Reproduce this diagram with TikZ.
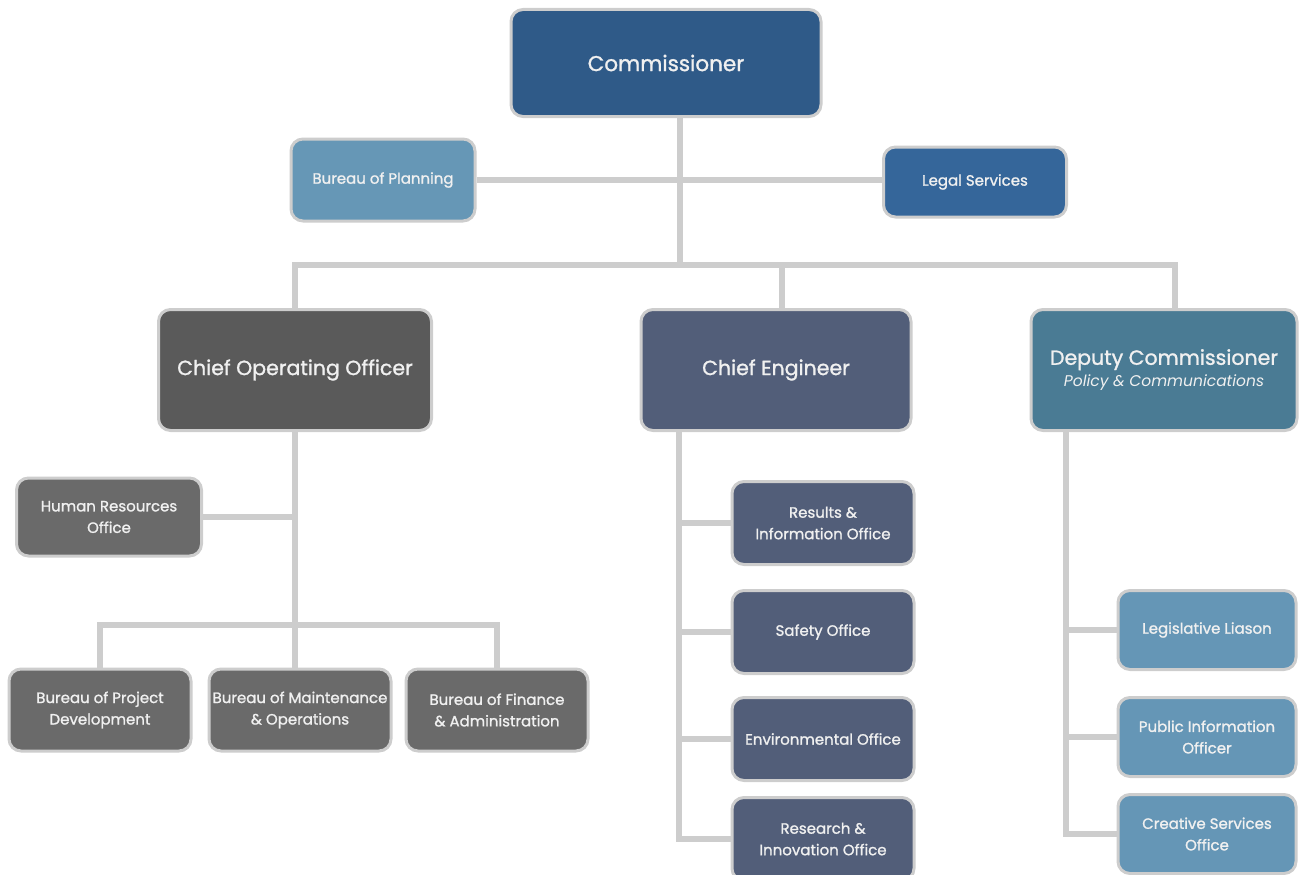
\documentclass[tikz,border=0pt]{standalone}
\usepackage{fontspec}
\setmainfont{Poppins}
\newfontfamily\chartfont{Poppins}[FakeBold=1.2]
\usepackage{xcolor}
\usetikzlibrary{positioning,backgrounds}

\definecolor{linkgray}{HTML}{CDCDCD}
\definecolor{commblue}{HTML}{2F5A88}
\definecolor{planblue}{HTML}{6697B6}
\definecolor{legalblue}{HTML}{35669A}
\definecolor{cooGray}{HTML}{5A5A5A}
\definecolor{cookid}{HTML}{6A6A6A}
\definecolor{ceslate}{HTML}{525E79}
\definecolor{dcteal}{HTML}{4A7B94}
\definecolor{dckid}{HTML}{6596B6}

\begin{document}
\begin{tikzpicture}[
  x=1pt, y=-1pt,
  box/.style={draw=linkgray, line width=3pt, rounded corners=12pt, text=white!94!black, align=center},
  head/.style={box, minimum width=270pt, minimum height=121pt, font=\chartfont\fontsize{20.5}{25}\selectfont},
  unit/.style={box, minimum width=182pt, minimum height=82pt, font=\chartfont\fontsize{15}{21.5}\selectfont},
  link/.style={draw=linkgray, line width=6pt}
]
  \useasboundingbox (0,0) rectangle (1299,875);

  \node[box, fill=commblue, minimum width=310pt, minimum height=107pt, font=\chartfont\fontsize{21.5}{26}\selectfont] (comm) at (666,63) {Commissioner};
  \node[unit, fill=planblue, minimum width=184pt] (plan) at (383,180) {Bureau of Planning};
  \node[unit, fill=legalblue, minimum width=183pt, minimum height=70pt] (legal) at (975,182) {Legal Services};

  \node[head, fill=cooGray, minimum width=273pt] (coo) at (295,370) {Chief Operating Officer};
  \node[head, fill=ceslate] (ce) at (776,370) {Chief Engineer};
  \node[head, fill=dcteal, minimum width=266pt] (dc) at (1164,370) {Deputy Commissioner\\[-3pt]{\setmainfont{Poppins}\fontsize{15.5}{18}\selectfont\itshape Policy \& Communications}};

  \node[unit, fill=cookid, minimum width=185pt, minimum height=78pt] (hr) at (109,517) {Human Resources\\Office};
  \node[unit, fill=cookid] (bpd) at (100,710) {Bureau of Project\\Development};
  \node[unit, fill=cookid, right=15pt of bpd] (bmo) {Bureau of Maintenance\\\& Operations};
  \node[unit, fill=cookid, right=12pt of bmo] (bfa) {Bureau of Finance\\\& Administration};

  \node[unit, fill=ceslate, minimum height=83pt] (results) at (823,523) {Results \&\\Information Office};
  \node[unit, fill=ceslate, minimum height=83pt, below=23pt of results] (safety) {Safety Office};
  \node[unit, fill=ceslate, minimum height=83pt, below=21pt of safety] (envoff) {Environmental Office};
  \node[unit, fill=ceslate, minimum height=83pt, below=14pt of envoff] (research) {Research \&\\Innovation Office};

  \node[unit, fill=dckid, minimum width=178pt, minimum height=79pt] (legis) at (1207,630) {Legislative Liason};
  \node[unit, fill=dckid, minimum width=178pt, minimum height=79pt, below=25pt of legis] (pubinfo) {Public Information\\Officer};
  \node[unit, fill=dckid, minimum width=178pt, minimum height=79pt, below=15pt of pubinfo] (creative) {Creative Services\\Office};

  \coordinate (bus) at (680,265);
  \coordinate (coobus) at (295,625);
  \coordinate (cespine) at (679,432);
  \coordinate (dcspine) at (1066,432);

  \begin{scope}[on background layer]
    \draw[link] (comm.south -| bus) -- (bus);
    \draw[link] (plan.east) -- (legal.west |- plan.east);
    \draw[link] (coo.north) |- (bus) -| ([xshift=11pt]dc.north);
    \draw[link] ([xshift=6pt]ce.north) -- ([xshift=6pt]ce.north |- bus);
    \draw[link] (coo.south) -- (coobus);
    \draw[link] (hr.east) -- (hr.east -| coobus);
    \draw[link] (bpd.north) |- (coobus) -| (bfa.north);
    \draw[link] (coobus) -- (bmo.north -| coobus);
    \foreach \n in {results,safety,envoff,research}
      \draw[link] (cespine) |- (\n.west);
    \foreach \n in {legis,pubinfo,creative}
      \draw[link] (dcspine) |- (\n.west);
  \end{scope}
\end{tikzpicture}
\end{document}
